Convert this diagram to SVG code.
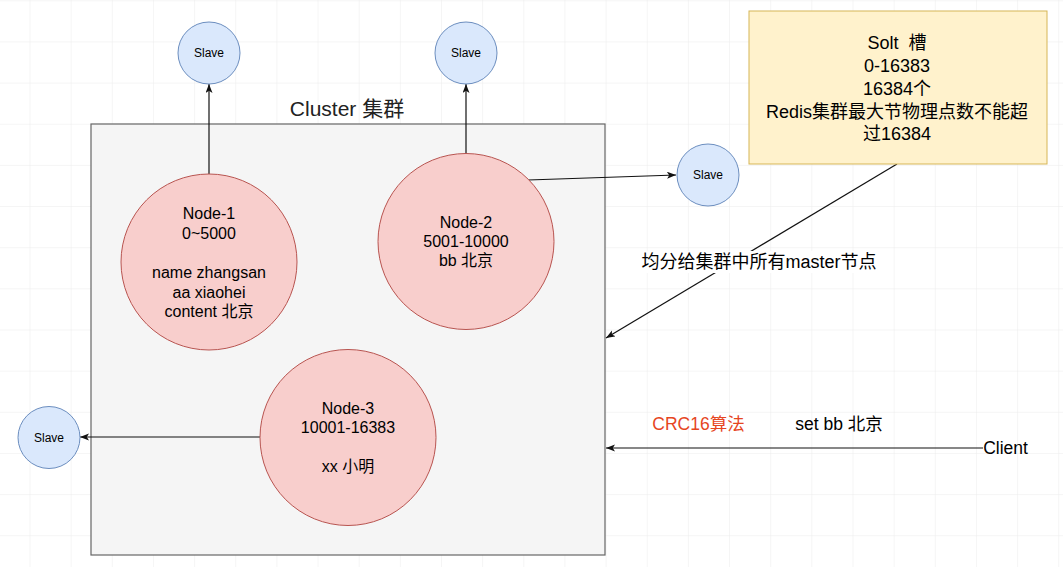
<svg xmlns="http://www.w3.org/2000/svg" width="1063" height="567" viewBox="0 0 1063 567">
<defs>
<pattern id="grid" x="29.5" y="0.3" width="41.15" height="41.15" patternUnits="userSpaceOnUse">
<path d="M0,0 H41.15 M0,0 V41.15" fill="none" stroke="#ececec" stroke-width="1"/>
</pattern>
<marker id="arr" markerUnits="userSpaceOnUse" markerWidth="10" markerHeight="8" refX="9" refY="3.5" orient="auto">
<path d="M0,0 L9,3.5 L0,7 L2.2,3.5 z" fill="#111"/>
</marker>
<style>
text{font-family:"Liberation Sans",Arial,"Noto Sans CJK SC",sans-serif;fill:#000;text-anchor:middle;dominant-baseline:central}
.slave circle{fill:#dae8fc;stroke:#6c8ebf;stroke-width:1}
.slave text{font-size:12px}
.master circle{fill:#f8cecc;stroke:#b85450;stroke-width:1}
.master text{font-size:16px}
.conn{fill:none;stroke:#111;stroke-width:1.2;marker-end:url(#arr)}
.lbl{font-size:17.5px}
</style>
</defs>
<rect width="1063" height="567" fill="#ffffff"/>
<rect width="1063" height="567" fill="url(#grid)"/>

<g id="cluster">
<rect x="91" y="124" width="514" height="431" fill="#f5f5f5" stroke="#666666" stroke-width="1.2"/>
<text x="347" y="108" style="font-size:21px;fill:#222">Cluster 集群</text>
</g>

<g id="connectors">
<line class="conn" x1="209" y1="174" x2="209" y2="84"/>
<line class="conn" x1="466" y1="154" x2="466" y2="84"/>
<line class="conn" x1="528" y1="180" x2="676" y2="175"/>
<line class="conn" x1="260" y1="437" x2="80" y2="437"/>
<line class="conn" x1="897" y1="164" x2="606" y2="338"/>
<line class="conn" x1="983" y1="448" x2="606" y2="448"/>
</g>

<g id="node1" class="master">
<circle cx="209" cy="262" r="88"/>
<text x="209" y="213">Node-1</text>
<text x="209" y="233">0~5000</text>
<text x="209" y="272">name zhangsan</text>
<text x="209" y="292">aa xiaohei</text>
<text x="209" y="311">content 北京</text>
</g>

<g id="node2" class="master">
<circle cx="466" cy="241.5" r="88"/>
<text x="466" y="222">Node-2</text>
<text x="466" y="241">5001-10000</text>
<text x="466" y="260">bb 北京</text>
</g>

<g id="node3" class="master">
<circle cx="348" cy="437.5" r="88"/>
<text x="348" y="408">Node-3</text>
<text x="348" y="427">10001-16383</text>
<text x="348" y="466">xx 小明</text>
</g>

<g id="slave1" class="slave">
<circle cx="209" cy="53" r="31"/>
<text x="209" y="53">Slave</text>
</g>
<g id="slave2" class="slave">
<circle cx="466" cy="53" r="31"/>
<text x="466" y="53">Slave</text>
</g>
<g id="slave3" class="slave">
<circle cx="708" cy="175" r="31"/>
<text x="708" y="175">Slave</text>
</g>
<g id="slave4" class="slave">
<circle cx="49" cy="437.5" r="31"/>
<text x="49" y="437.5">Slave</text>
</g>

<g id="slot">
<rect x="749" y="11" width="298" height="153" fill="#fff2cc" stroke="#d6b656" stroke-width="1"/>
<text x="897" y="43" style="font-size:18px" xml:space="preserve">Solt  槽</text>
<text x="897" y="66" style="font-size:18px">0-16383</text>
<text x="897" y="89" style="font-size:18px">16384个</text>
<text x="897" y="112" style="font-size:18px">Redis集群最大节物理点数不能超</text>
<text x="897" y="134" style="font-size:18px">过16384</text>
</g>

<g id="label-distribute">
<rect x="637" y="251" width="244" height="22" fill="#ffffff"/>
<text x="759" y="262" style="font-size:18px">均分给集群中所有master节点</text>
</g>

<g id="label-crc">
<text x="698.5" y="424" class="lbl" style="fill:#e6461f">CRC16算法</text>
</g>
<g id="label-set">
<text x="839" y="424" class="lbl">set bb 北京</text>
</g>
<g id="client">
<text x="1005.5" y="448" style="font-size:17.5px">Client</text>
</g>
</svg>
